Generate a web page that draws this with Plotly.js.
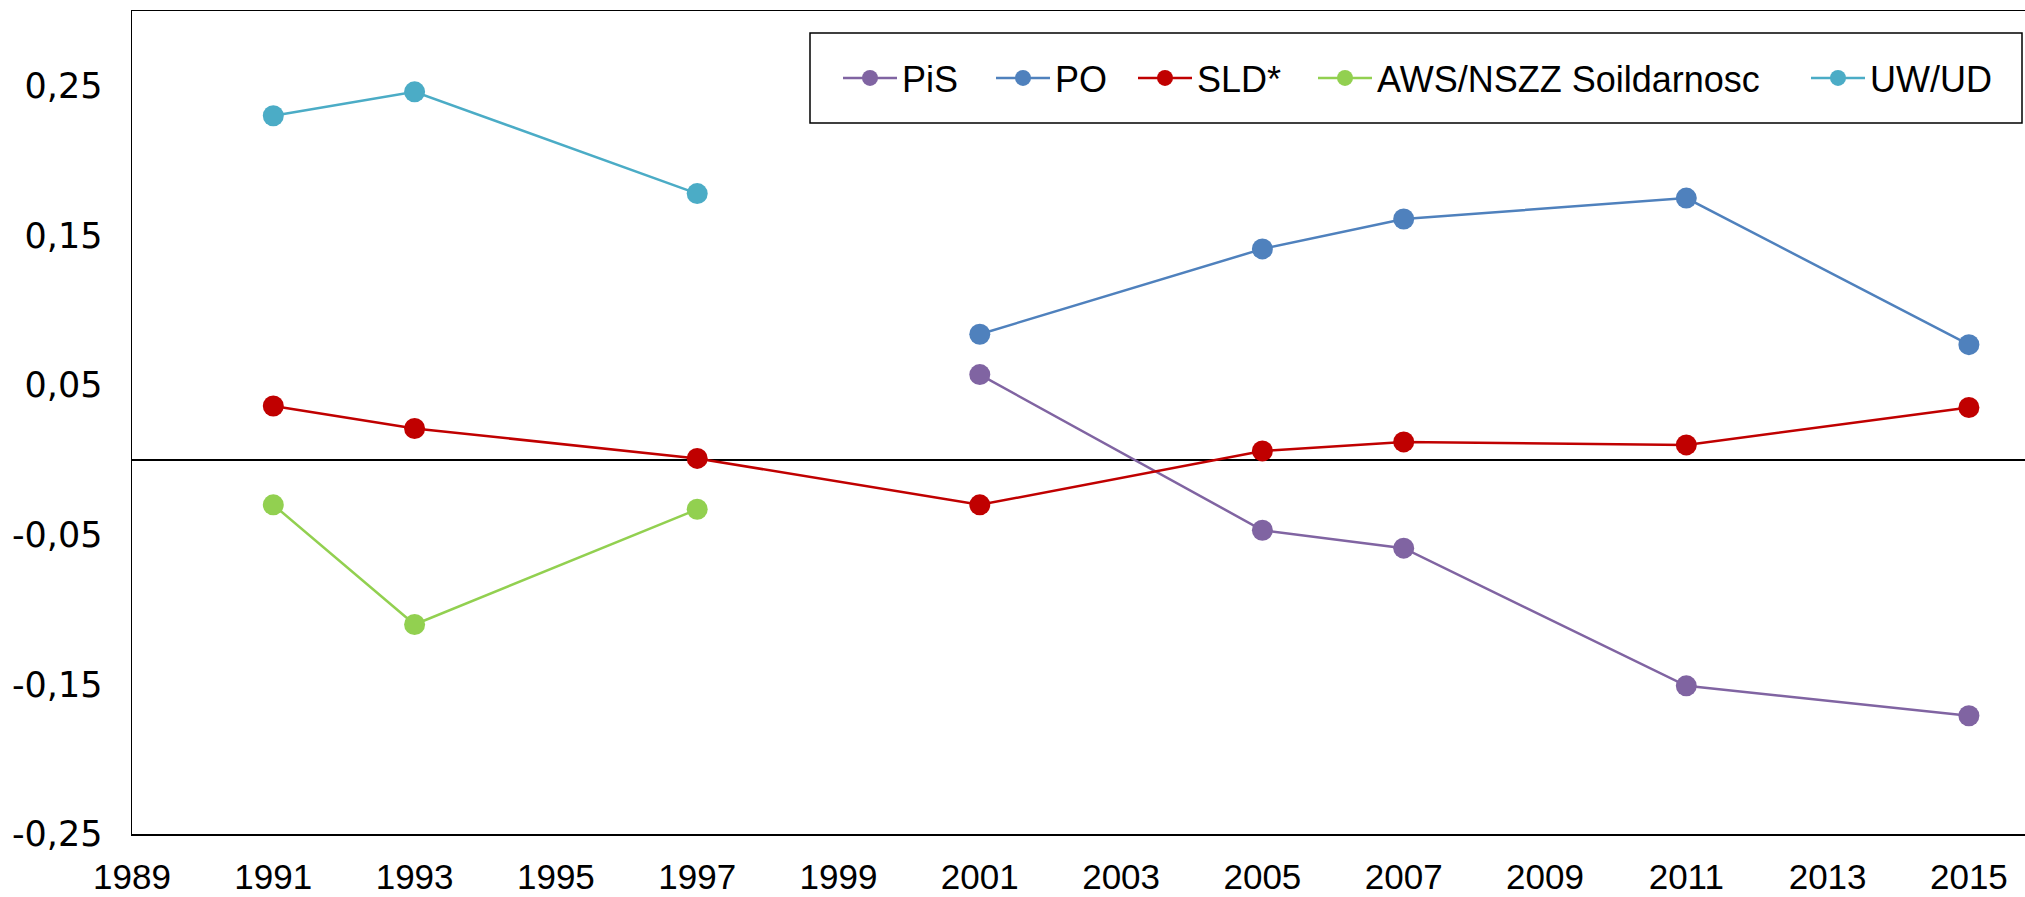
<!DOCTYPE html>
<html>
<head>
<meta charset="utf-8">
<script src="https://cdn.plot.ly/plotly-3.0.1.min.js"></script>
<style>html,body{margin:0;padding:0;background:#fff;} #chart{width:2025px;height:897px;}</style>
</head>
<body>
<div id="chart"></div>
<script>
// ---- data ----
var seriesNames = ["PiS", "PO", "SLD*", "AWS/NSZZ Soildarnosc", "UW/UD"];
var yearsPiS = [2001, 2005, 2007, 2011, 2015];
var valuesPiS = [0.057, -0.047, -0.059, -0.151, -0.171];
var yearsPO = [2001, 2005, 2007, 2011, 2015];
var valuesPO = [0.084, 0.141, 0.161, 0.175, 0.077];
var yearsSLD = [1991, 1993, 1997, 2001, 2005, 2007, 2011, 2015];
var valuesSLD = [0.036, 0.021, 0.001, -0.030, 0.006, 0.012, 0.010, 0.035];
var yearsAWS = [1991, 1993, 1997];
var valuesAWS = [-0.030, -0.110, -0.033];
var yearsUW = [1991, 1993, 1997];
var valuesUW = [0.230, 0.246, 0.178];
var xTickVals = [1989, 1991, 1993, 1995, 1997, 1999, 2001, 2003, 2005, 2007, 2009, 2011, 2013, 2015];
var yTickVals = [0.25, 0.15, 0.05, -0.05, -0.15, -0.25];
var yTickText = ["0,25", "0,15", "0,05", "-0,05", "-0,15", "-0,25"];

// ---- styling ----
var colors = ["#8064A2", "#4F81BD", "#C00000", "#92D050", "#4BACC6"];
var xs = [yearsPiS, yearsPO, yearsSLD, yearsAWS, yearsUW];
var ys = [valuesPiS, valuesPO, valuesSLD, valuesAWS, valuesUW];
var legendIds = ["legend", "legend2", "legend3", "legend4", "legend5"];

var W = 2025, H = 897;
var mL = 132, mR = 0, mT = 11, mB = 63;
var pw = W - mL - mR, ph = H - mT - mB;
function px2x(p) { return (p - mL) / pw; }
function py2y(p) { return (H - mB - p) / ph; }

var traces = [];
for (var i = 0; i < seriesNames.length; i++) {
  traces.push({
    type: "scatter", mode: "lines+markers",
    x: xs[i], y: ys[i], name: seriesNames[i],
    line: {color: colors[i], width: 2.5},
    marker: {color: colors[i], size: 21},
    legend: legendIds[i], showlegend: true,
    hoverinfo: "skip"
  });
}

var font = "Liberation Sans, Arial, sans-serif";
var legendMarkerPx = [870, 1023, 1165, 1345, 1838];
var legendY = py2y(78);
var layout = {
  width: W, height: H,
  margin: {l: mL, r: mR, t: mT, b: mB, pad: 0},
  paper_bgcolor: "#ffffff", plot_bgcolor: "#ffffff",
  showlegend: true,
  font: {family: font, color: "#000000", size: 34},
  xaxis: {
    range: [1989, 1989 + pw / 70.65],
    tickmode: "array", tickvals: xTickVals,
    ticks: "", showgrid: false, zeroline: false,
    showline: true, linecolor: "#000000", linewidth: 1.5, mirror: true,
    tickfont: {family: font, size: 35, color: "#000000"},
    ticklabelstandoff: 11
  },
  yaxis: {
    range: [-0.25, 0.30],
    tickmode: "array", tickvals: yTickVals, ticktext: yTickText,
    ticks: "", showgrid: false,
    zeroline: true, zerolinecolor: "#000000", zerolinewidth: 1.5,
    showline: true, linecolor: "#000000", linewidth: 1.5, mirror: false,
    tickfont: {family: "DejaVu Sans, sans-serif", size: 35, color: "#000000"},
    ticklabelstandoff: 21
  },
  shapes: [{
    type: "rect", xref: "paper", yref: "paper",
    x0: px2x(810), x1: px2x(2022), y0: py2y(123), y1: py2y(33),
    line: {color: "#000000", width: 1.5}, fillcolor: "rgba(0,0,0,0)"
  }]
};
for (var j = 0; j < legendIds.length; j++) {
  layout[legendIds[j]] = {
    x: px2x(legendMarkerPx[j] - 32), y: legendY,
    xanchor: "left", yanchor: "middle", orientation: "h",
    bgcolor: "rgba(0,0,0,0)", borderwidth: 0,
    itemwidth: 54,
    font: {family: font, size: 36, color: "#000000"}
  };
}

Plotly.newPlot("chart", traces, layout, {displayModeBar: false, staticPlot: true});
</script>
</body>
</html>
